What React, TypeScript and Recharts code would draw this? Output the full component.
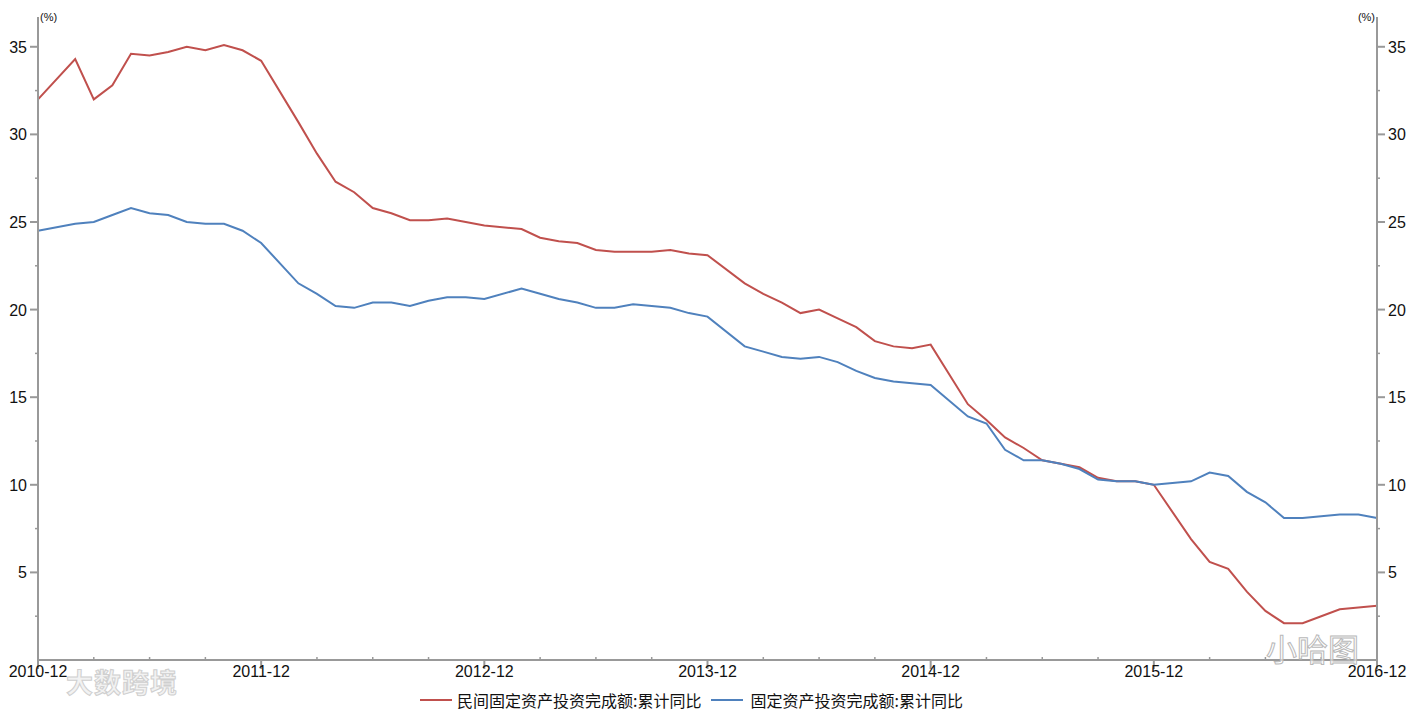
import { LineChart, Line, XAxis, YAxis } from 'recharts';

const months = [
  '2010-12',
  '2011-02', '2011-03', '2011-04', '2011-05', '2011-06', '2011-07', '2011-08', '2011-09', '2011-10', '2011-11', '2011-12',
  '2012-02', '2012-03', '2012-04', '2012-05', '2012-06', '2012-07', '2012-08', '2012-09', '2012-10', '2012-11', '2012-12',
  '2013-02', '2013-03', '2013-04', '2013-05', '2013-06', '2013-07', '2013-08', '2013-09', '2013-10', '2013-11', '2013-12',
  '2014-02', '2014-03', '2014-04', '2014-05', '2014-06', '2014-07', '2014-08', '2014-09', '2014-10', '2014-11', '2014-12',
  '2015-02', '2015-03', '2015-04', '2015-05', '2015-06', '2015-07', '2015-08', '2015-09', '2015-10', '2015-11', '2015-12',
  '2016-02', '2016-03', '2016-04', '2016-05', '2016-06', '2016-07', '2016-08', '2016-09', '2016-10', '2016-11', '2016-12',
];

const privateInvest = [
  32.0,
  34.3, 32.0, 32.8, 34.6, 34.5, 34.7, 35.0, 34.8, 35.1, 34.8, 34.2,
  30.7, 28.9, 27.3, 26.7, 25.8, 25.5, 25.1, 25.1, 25.2, 25.0, 24.8,
  24.6, 24.1, 23.9, 23.8, 23.4, 23.3, 23.3, 23.3, 23.4, 23.2, 23.1,
  21.5, 20.9, 20.4, 19.8, 20.0, 19.5, 19.0, 18.2, 17.9, 17.8, 18.0,
  14.6, 13.7, 12.7, 12.1, 11.4, 11.2, 11.0, 10.4, 10.2, 10.2, 10.0,
  6.9, 5.6, 5.2, 3.9, 2.8, 2.1, 2.1, 2.5, 2.9, 3.0, 3.1,
];

const totalInvest = [
  24.5,
  24.9, 25.0, 25.4, 25.8, 25.5, 25.4, 25.0, 24.9, 24.9, 24.5, 23.8,
  21.5, 20.9, 20.2, 20.1, 20.4, 20.4, 20.2, 20.5, 20.7, 20.7, 20.6,
  21.2, 20.9, 20.6, 20.4, 20.1, 20.1, 20.3, 20.2, 20.1, 19.8, 19.6,
  17.9, 17.6, 17.3, 17.2, 17.3, 17.0, 16.5, 16.1, 15.9, 15.8, 15.7,
  13.9, 13.5, 12.0, 11.4, 11.4, 11.2, 10.9, 10.3, 10.2, 10.2, 10.0,
  10.2, 10.7, 10.5, 9.6, 9.0, 8.1, 8.1, 8.2, 8.3, 8.3, 8.1,
];

const xTicks = [0, 3, 6, 9, 12, 15, 18, 21, 24, 27, 30, 33, 36, 39, 42, 45, 48, 51, 54, 57, 60, 63, 66, 69, 72];
const yTicks = [2.5, 5, 7.5, 10, 12.5, 15, 17.5, 20, 22.5, 25, 27.5, 30, 32.5, 35];

const PRIVATE_NAME = '民间固定资产投资完成额:累计同比';
const TOTAL_NAME = '固定资产投资完成额:累计同比';
const RED = '#C0504D';
const BLUE = '#4F81BD';
const AXIS = '#999999';
const FONT = '"Liberation Sans", Arial, sans-serif';

// months since 2010-12
const monthIndex = (m: string) => {
  const [y, mo] = m.split('-').map(Number);
  return (y - 2010) * 12 + mo - 12;
};

const data = months.map((m, i) => ({
  t: monthIndex(m),
  priv: privateInvest[i],
  total: totalInvest[i],
}));

const XTick = (props: any) => {
  const { x, y, payload } = props;
  const v = payload.value;
  if (v % 12 !== 0) {
    return <line x1={x} x2={x} y1={y} y2={y - 3} stroke={AXIS} strokeWidth={1.5} />;
  }
  return (
    <g>
      <line x1={x} x2={x} y1={y} y2={y + 9} stroke={AXIS} strokeWidth={2} />
      <text x={x} y={y + 17} textAnchor="middle" fontSize={16} fill="#111" fontFamily={FONT}>
        {`${2010 + v / 12}-12`}
      </text>
    </g>
  );
};

const YTick = (side: 'left' | 'right') => (props: any) => {
  const { x, y, payload } = props;
  const v = payload.value;
  const s = side === 'left' ? -1 : 1;
  const major = v % 5 === 0;
  return (
    <g>
      <line x1={x} x2={x + s * (major ? 8 : 3)} y1={y} y2={y} stroke={AXIS} strokeWidth={major ? 2 : 1.5} />
      {major && (
        <text
          x={x + s * 11}
          y={y}
          dy={6}
          textAnchor={side === 'left' ? 'end' : 'start'}
          fontSize={16}
          fill="#111"
          fontFamily={FONT}
        >
          {v}
        </text>
      )}
    </g>
  );
};

const unitLabel = (side: 'left' | 'right') => (props: any) => {
  const vb = props.viewBox;
  const x = side === 'left' ? vb.x + vb.width + 2 : vb.x - 2;
  return (
    <text
      x={x}
      y={vb.y + 4}
      textAnchor={side === 'left' ? 'start' : 'end'}
      fontSize={11}
      fill="#111"
      fontFamily={FONT}
    >
      (%)
    </text>
  );
};

export default function App() {
  return (
    <div style={{ position: 'absolute', left: 0, top: 0, width: 1416, height: 715, background: '#fff' }}>
      <LineChart width={1416} height={715} data={data} margin={{ top: 17, right: 0, left: 0, bottom: 0 }}>
        <XAxis
          dataKey="t"
          type="number"
          domain={[0, 72]}
          ticks={xTicks}
          interval={0}
          height={55}
          tickSize={0}
          tickMargin={0}
          tickLine={false}
          axisLine={{ stroke: AXIS, strokeWidth: 2 }}
          tick={<XTick />}
        />
        <YAxis
          yAxisId="left"
          orientation="left"
          width={38}
          domain={[0, 36.7]}
          ticks={yTicks}
          interval={0}
          tickSize={0}
          tickMargin={0}
          tickLine={false}
          axisLine={{ stroke: AXIS, strokeWidth: 2 }}
          tick={YTick('left')}
          label={{ content: unitLabel('left') }}
        />
        <YAxis
          yAxisId="right"
          orientation="right"
          width={39}
          domain={[0, 36.7]}
          ticks={yTicks}
          interval={0}
          tickSize={0}
          tickMargin={0}
          tickLine={false}
          axisLine={{ stroke: AXIS, strokeWidth: 2 }}
          tick={YTick('right')}
          label={{ content: unitLabel('right') }}
        />
        <Line
          yAxisId="left"
          type="linear"
          dataKey="priv"
          name={PRIVATE_NAME}
          stroke={RED}
          strokeWidth={2}
          dot={false}
          isAnimationActive={false}
        />
        <Line
          yAxisId="left"
          type="linear"
          dataKey="total"
          name={TOTAL_NAME}
          stroke={BLUE}
          strokeWidth={2}
          dot={false}
          isAnimationActive={false}
        />
        <Line
          yAxisId="right"
          dataKey="total"
          stroke="none"
          dot={false}
          legendType="none"
          isAnimationActive={false}
        />
      </LineChart>
      {/* legend */}
      <div
        style={{
          position: 'absolute',
          top: 690,
          left: 420,
          display: 'flex',
          alignItems: 'center',
          fontFamily: '"Noto Sans CJK SC", sans-serif',
          fontSize: 16,
          lineHeight: '20px',
          color: '#111',
          whiteSpace: 'nowrap',
        }}
      >
        <span style={{ display: 'inline-block', width: 32, height: 2, background: RED, marginRight: 5 }} />
        <span>{PRIVATE_NAME}</span>
        <span style={{ display: 'inline-block', width: 32, height: 2, background: BLUE, marginLeft: 10, marginRight: 7 }} />
        <span>{TOTAL_NAME}</span>
      </div>
      {/* watermarks */}
      <div
        style={{
          position: 'absolute',
          left: 66,
          top: 668,
          fontFamily: '"Noto Sans CJK SC", sans-serif',
          fontWeight: 700,
          fontSize: 27,
          lineHeight: 1,
          color: '#f2f2f2',
          WebkitTextStroke: '1px #cfcfcf',
          letterSpacing: 1,
        }}
      >
        大数跨境
      </div>
      <div
        style={{
          position: 'absolute',
          left: 1266,
          top: 632,
          fontFamily: '"Noto Sans CJK SC", sans-serif',
          fontSize: 31,
          lineHeight: 1,
          color: 'rgba(255,255,255,0.6)',
          WebkitTextStroke: '1px #b8b8b8',
        }}
      >
        小哈图
      </div>
    </div>
  );
}
